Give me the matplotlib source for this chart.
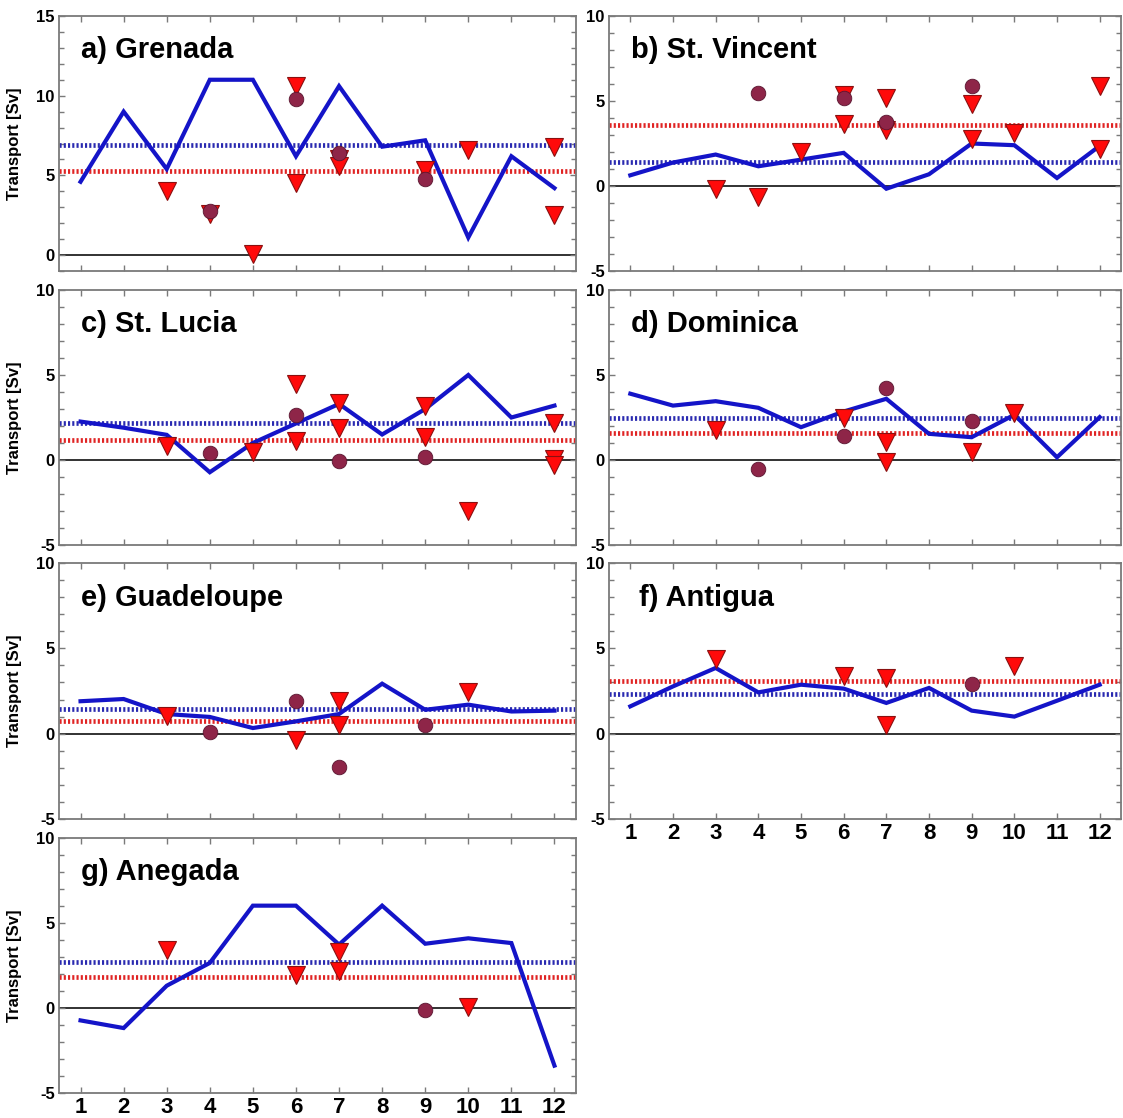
import matplotlib
matplotlib.use('Agg')
import matplotlib.pyplot as plt
from matplotlib.ticker import MultipleLocator, FixedLocator

plt.rcParams['font.family'] = ['Liberation Sans', 'DejaVu Sans']
plt.rcParams['axes.unicode_minus'] = False

months = list(range(1, 13))
month_labels = [str(m) for m in months]

titles = ['a) Grenada', 'b) St. Vincent', 'c) St. Lucia', 'd) Dominica',
          'e) Guadeloupe', 'f) Antigua', 'g) Anegada']

# Blue solid line (monthly transport)
grenada_line = [4.6, 9.0, 5.4, 11.0, 11.0, 6.2, 10.6, 6.8, 7.2, 1.1, 6.2, 4.2]
stvincent_line = [0.63, 1.38, 1.85, 1.16, 1.55, 1.95, -0.16, 0.69, 2.5, 2.4, 0.47, 2.36]
stlucia_line = [2.26, 1.9, 1.48, -0.72, 1.0, 2.15, 3.3, 1.5, 3.0, 5.0, 2.5, 3.2]
dominica_line = [3.9, 3.2, 3.46, 3.07, 1.93, 2.85, 3.6, 1.54, 1.34, 2.66, 0.16, 2.52]
guadeloupe_line = [1.9, 2.03, 1.15, 0.98, 0.33, 0.72, 1.15, 2.93, 1.4, 1.7, 1.3, 1.35]
antigua_line = [1.6, 2.77, 3.85, 2.42, 2.87, 2.64, 1.8, 2.68, 1.35, 1.0, 1.93, 2.87]
anegada_line = [-0.73, -1.18, 1.31, 2.65, 6.02, 6.02, 3.73, 6.02, 3.78, 4.1, 3.82, -3.39]

# Dotted mean lines
blue_means = [6.9, 1.41, 2.18, 2.5, 1.45, 2.34, 2.7]
red_means = [5.3, 3.58, 1.19, 1.6, 0.72, 3.1, 1.82]

# Red triangles (month, value)
grenada_tri_m = [3, 4, 5, 6, 6, 7, 7, 9, 10, 12, 12]
grenada_tri_v = [4.0, 2.55, 0.05, 10.6, 4.5, 6.0, 5.6, 5.35, 6.6, 6.8, 2.5]
stvincent_tri_m = [3, 4, 5, 6, 6, 7, 7, 9, 9, 10, 12, 12]
stvincent_tri_v = [-0.16, -0.65, 2.0, 5.34, 3.67, 5.19, 3.28, 4.81, 2.79, 3.14, 5.87, 2.2]
stlucia_tri_m = [3, 5, 6, 6, 7, 7, 9, 9, 10, 12, 12, 12]
stlucia_tri_v = [0.84, 0.45, 4.5, 1.13, 3.37, 1.9, 3.18, 1.36, -3.0, 2.15, 0.06, -0.3]
dominica_tri_m = [3, 6, 7, 7, 9, 10]
dominica_tri_v = [1.77, 2.5, 1.04, -0.14, 0.45, 2.76]
guadeloupe_tri_m = [3, 6, 7, 7, 10]
guadeloupe_tri_v = [1.05, -0.35, 1.9, 0.53, 2.42]
antigua_tri_m = [3, 6, 7, 7, 10]
antigua_tri_v = [4.4, 3.36, 3.26, 0.53, 3.95]
anegada_tri_m = [3, 6, 7, 7, 10]
anegada_tri_v = [3.43, 1.96, 3.27, 2.16, 0.04]

# Maroon circles (month, value)
grenada_circ_m = [4, 6, 7, 9]
grenada_circ_v = [2.75, 9.8, 6.4, 4.8]
stvincent_circ_m = [4, 6, 7, 9]
stvincent_circ_v = [5.48, 5.15, 3.77, 5.87]
stlucia_circ_m = [4, 6, 7, 9]
stlucia_circ_v = [0.4, 2.65, -0.04, 0.2]
dominica_circ_m = [4, 6, 7, 9]
dominica_circ_v = [-0.53, 1.4, 4.23, 2.32]
guadeloupe_circ_m = [4, 6, 7, 9]
guadeloupe_circ_v = [0.1, 1.93, -1.97, 0.49]
antigua_circ_m = [9]
antigua_circ_v = [2.9]
anegada_circ_m = [9]
anegada_circ_v = [-0.1]

lines = [grenada_line, stvincent_line, stlucia_line, dominica_line,
         guadeloupe_line, antigua_line, anegada_line]
tri_m = [grenada_tri_m, stvincent_tri_m, stlucia_tri_m, dominica_tri_m,
         guadeloupe_tri_m, antigua_tri_m, anegada_tri_m]
tri_v = [grenada_tri_v, stvincent_tri_v, stlucia_tri_v, dominica_tri_v,
         guadeloupe_tri_v, antigua_tri_v, anegada_tri_v]
circ_m = [grenada_circ_m, stvincent_circ_m, stlucia_circ_m, dominica_circ_m,
          guadeloupe_circ_m, antigua_circ_m, anegada_circ_m]
circ_v = [grenada_circ_v, stvincent_circ_v, stlucia_circ_v, dominica_circ_v,
          guadeloupe_circ_v, antigua_circ_v, anegada_circ_v]
ylims = [(-1, 15), (-5, 10), (-5, 10), (-5, 10), (-5, 10), (-5, 10), (-5, 10)]

W, H = 1123, 1118
fig = plt.figure(figsize=(W / 100, H / 100), dpi=100)

cols = [(59, 576), (609, 1121)]
rows = [(16, 271), (290, 545), (563, 819), (838, 1093)]

SPINE = '#7a7a7a'
BLUE = '#1414c8'
BLUE_DOT = '#2a2ab0'
RED_DOT = '#e02424'
TRI = '#ff0a0a'
TRI_EDGE = '#8a1010'
CIRC = '#8e2548'
CIRC_EDGE = '#5a1530'

for i in range(7):
    r, c = divmod(i, 2)
    x0, x1 = cols[c]
    y0, y1 = rows[r]
    ax = fig.add_axes([x0 / W, 1 - y1 / H, (x1 - x0) / W, (y1 - y0) / H])
    ax.set_xlim(0.5, 12.5)
    ax.set_ylim(*ylims[i])

    ax.axhline(0, color='#222222', lw=1.3, zorder=1)
    ax.axhline(blue_means[i], color=BLUE_DOT, lw=3.4, ls=(0, (0.45, 0.45)), zorder=2)
    ax.axhline(red_means[i], color=RED_DOT, lw=3.4, ls=(0, (0.45, 0.45)), zorder=2)
    ax.plot(months, lines[i], color=BLUE, lw=3.0, solid_joinstyle='miter', zorder=3)
    ax.plot(tri_m[i], tri_v[i], ls='none', marker='v', ms=12.5, mfc=TRI,
            mec=TRI_EDGE, mew=0.8, zorder=4)
    ax.plot(circ_m[i], circ_v[i], ls='none', marker='o', ms=10.5, mfc=CIRC,
            mec=CIRC_EDGE, mew=0.6, zorder=5)

    ax.text(0.043 if i != 5 else 0.058, 0.865, titles[i], transform=ax.transAxes,
            fontsize=21, fontweight='bold', va='center', ha='left')

    for s in ax.spines.values():
        s.set_color(SPINE)
        s.set_linewidth(1.3)

    ax.xaxis.set_major_locator(FixedLocator(months))
    ax.yaxis.set_major_locator(MultipleLocator(5))
    ax.yaxis.set_minor_locator(MultipleLocator(1))
    ax.tick_params(axis='both', which='both', direction='in', top=True, right=True,
                   color=SPINE, width=1.0)
    ax.tick_params(axis='both', which='major', length=4.5)
    ax.tick_params(axis='y', which='minor', length=3.5)
    ax.tick_params(axis='y', labelsize=12, pad=3)
    for lab in ax.get_yticklabels():
        lab.set_fontweight('bold')

    if i in (5, 6):
        ax.set_xticklabels(month_labels, fontsize=16, fontweight='bold')
        ax.tick_params(axis='x', pad=3)
    else:
        ax.set_xticklabels([])

    if c == 0:
        ax.set_ylabel('Transport [Sv]', fontsize=12, fontweight='bold')
        ax.yaxis.set_label_coords(-0.072, 0.5)

fig.savefig('out.png', dpi=100)
